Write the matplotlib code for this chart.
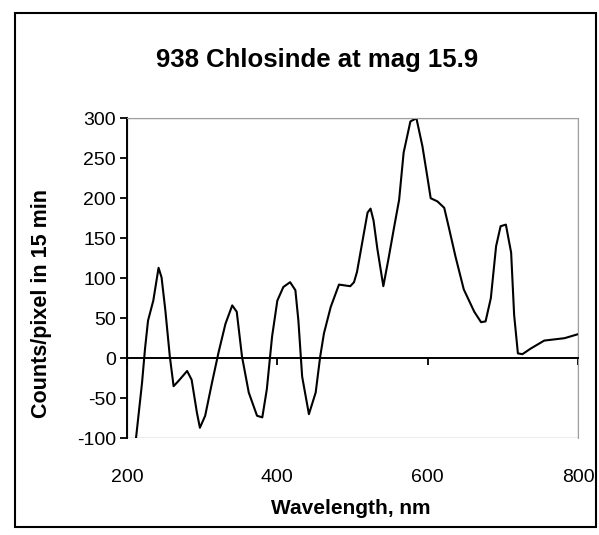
import matplotlib.pyplot as plt
from matplotlib.patches import Rectangle

plt.rcParams['font.family'] = ['Liberation Sans', 'DejaVu Sans']
plt.rcParams['axes.unicode_minus'] = False

# spectrum
wavelength = [212, 220, 224, 228, 235, 242, 246, 251, 257, 262, 268, 280, 286,
              293, 297, 304, 313, 322, 331, 340, 346, 353, 362, 373, 380, 386,
              393, 400, 408, 417, 424, 428, 433, 442, 451, 457, 462, 471, 482,
              497, 502, 506, 513, 520, 524, 528, 533, 541, 548, 555, 562, 568,
              577, 585, 593, 600, 604, 613, 622, 628, 637, 648, 662, 671, 677,
              684, 691, 697, 704, 711, 715, 720, 726, 737, 755, 782, 800]
counts = [-100, -31, 12, 47, 72, 113, 101, 60, 2, -35, -29, -16, -27,
          -68, -87, -72, -31, 8, 43, 66, 58, 2, -43, -72, -74, -39,
          27, 72, 89, 95, 85, 47, -23, -70, -43, 2, 31, 64, 92,
          90, 95, 108, 145, 182, 187, 172, 137, 90, 125, 162, 198, 257,
          296, 300, 265, 224, 200, 196, 188, 164, 127, 86, 58, 45, 46,
          75, 140, 165, 167, 132, 54, 6, 5, 12, 22, 25, 30]

x_ticks = [200, 400, 600, 800]
y_ticks = [-100, -50, 0, 50, 100, 150, 200, 250, 300]

fig = plt.figure(figsize=(5.99, 5.35), dpi=100)
ax = fig.add_axes([0.212, 0.181, 0.753, 0.598])

ax.plot(wavelength, counts, color='black', lw=1.5)
ax.set_xlim(200, 800)
ax.set_ylim(-100, 300)

# grey plot-area frame, black value axis, category axis crossing at zero
for side in ['top', 'right']:
    ax.spines[side].set_color('#a0a0a0')
ax.spines['left'].set_color('black')
ax.spines['left'].set_linewidth(1.4)
ax.spines['bottom'].set_position(('data', 0))
ax.spines['bottom'].set_color('black')
ax.spines['bottom'].set_linewidth(1.4)
ax.add_patch(Rectangle((0, 0), 1, 1, transform=ax.transAxes, fill=False,
                       edgecolor='#a0a0a0', lw=1, zorder=0))

ax.set_yticks(y_ticks)
ax.tick_params(axis='y', direction='out', length=5, width=1.3,
               labelsize=14, pad=3)
ax.set_xticks(x_ticks)
ax.tick_params(axis='x', direction='out', length=5, width=1.3,
               labelbottom=False)

sec = ax.secondary_xaxis(0)
sec.set_xticks(x_ticks)
sec.tick_params(length=0, labelsize=14, pad=22)
sec.spines['bottom'].set_visible(False)

ax.set_ylabel('Counts/pixel in 15 min', fontsize=15.5, fontweight='bold')
ax.yaxis.set_label_coords(-0.166, 0.42)
fig.text(0.586, 0.05, 'Wavelength, nm', fontsize=15, fontweight='bold',
         ha='center', va='center')
fig.text(0.53, 0.888, '938 Chlosinde at mag 15.9', fontsize=18.5,
         fontweight='bold', ha='center', va='center')

# outer chart border
fig.add_artist(Rectangle((0.025, 0.015), 0.97, 0.96, transform=fig.transFigure,
                         fill=False, edgecolor='black', lw=1.5))

fig.savefig('out.png', dpi=100)
